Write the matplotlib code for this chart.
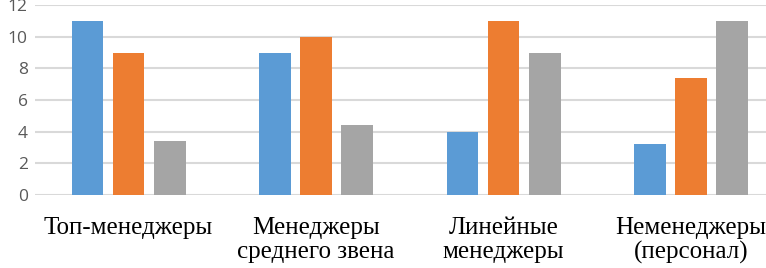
import matplotlib
matplotlib.use("Agg")
import matplotlib.pyplot as plt
import numpy as np

categories = ["Топ-менеджеры", "Менеджеры\nсреднего звена", "Линейные\nменеджеры", "Неменеджеры\n(персонал)"]
series1 = [11, 9, 4, 3.2]
series2 = [9, 10, 11, 7.4]
series3 = [3.4, 4.4, 9, 11]
yticks = [0, 2, 4, 6, 8, 10, 12]
colors = ["#5B9BD5", "#ED7D31", "#A5A5A5"]

fig = plt.figure(figsize=(7.66, 2.68), dpi=100)
left = 34.75 / 766
right = 784.75 / 766
bottom = 73 / 268
top = 263 / 268
ax = fig.add_axes([left, bottom, right - left, top - bottom])

x = np.arange(len(categories))
w = 0.17
step = 0.219
for i, (vals, c) in enumerate(zip([series1, series2, series3], colors)):
    ax.bar(x + (i - 1) * step, vals, width=w, color=c, zorder=3)

ax.set_xlim(-0.5, 3.5)
ax.set_ylim(0, 12)
ax.set_yticks(yticks)
ax.set_yticklabels([str(t) for t in yticks], color="#595959", fontsize=12.5, family="Open Sans")
ax.set_xticks(x)
ax.set_xticklabels(categories, fontsize=18, family="Liberation Serif", linespacing=1.12, va="top")
ax.tick_params(axis="both", length=0)
ax.tick_params(axis="x", pad=16)
ax.tick_params(axis="y", pad=5)
ax.grid(axis="y", color="#D9D9D9", linewidth=1.5, zorder=0)
for s in ax.spines.values():
    s.set_visible(False)

fig.savefig("out.png", dpi=100)
